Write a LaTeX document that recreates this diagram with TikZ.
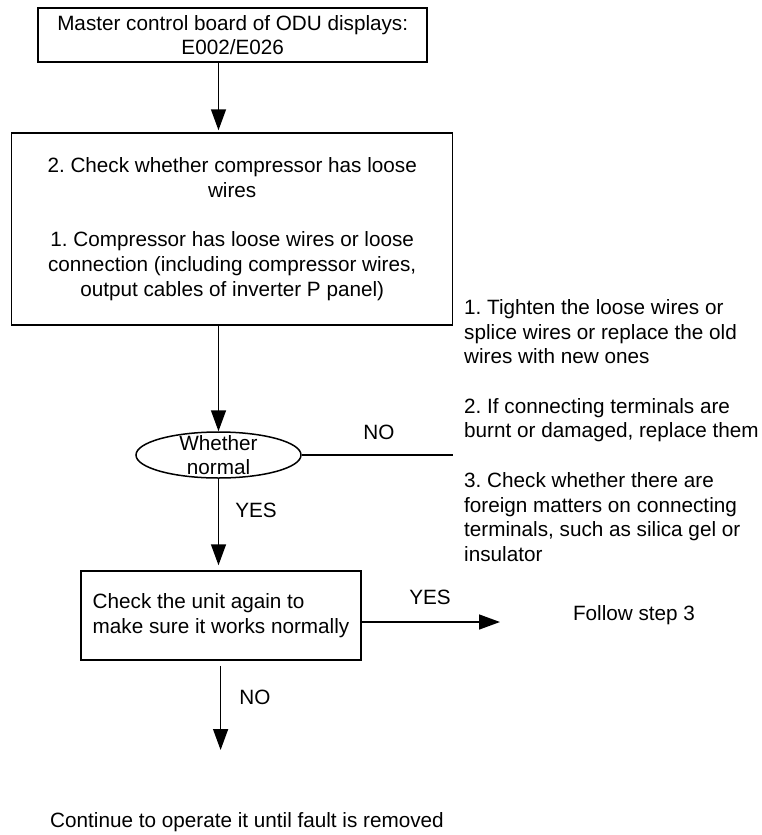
\documentclass[tikz,border=0pt]{standalone}
\usepackage{fontspec}
\setmainfont{Liberation Sans}
\frenchspacing
\usetikzlibrary{shapes.geometric, arrows.meta}

\begin{document}
\begin{tikzpicture}[x=1pt, y=-1pt, font=\fontsize{20.7}{24.7}\selectfont]
% Define the node styles
\tikzstyle{box} = [draw, rectangle, line width=1.5pt, inner sep=0pt]
\tikzstyle{decision} = [draw, ellipse, line width=1.5pt, minimum width=165pt, minimum height=46pt, inner sep=0pt]
\tikzstyle{note} = [inner sep=0pt, align=left]
\tikzstyle{flow} = [line width=1.5pt, -{Triangle[length=21pt, width=15pt]}]

\useasboundingbox (0,0) rectangle (761,835);

% Define the nodes
\node[box, align=center, minimum width=389pt, minimum height=54pt] (master) at (232.7, 35.2) {Master control board of ODU displays:\\E002/E026};
\node[box, align=center, minimum width=441pt, minimum height=192pt] (check) at (232.2, 229) {2. Check whether compressor has loose\\wires\\[24.7pt]1. Compressor has loose wires or loose\\connection (including compressor wires,\\output cables of inverter P panel)};
\node[decision] (normal) at (218.5, 455) {};
\node[align=center, inner sep=0pt] (normaltxt) at (normal) {Whether\\normal};
\node[note, anchor=west] (fix) at (464, 430.5) {1. Tighten the loose wires or\\splice wires or replace the old\\wires with new ones\\[24.7pt]2. If connecting terminals are\\burnt or damaged, replace them\\[24.7pt]3. Check whether there are\\foreign matters on connecting\\terminals, such as silica gel or\\insulator};
\node[box, align=left, minimum width=280pt, minimum height=89pt] (again) at (221, 615.5) {Check the unit again to\\make sure it works normally};
\node[note] (follow) at (634, 615) {Follow step 3};
\node[note] (cont) at (247, 822) {Continue to operate it until fault is removed};

\coordinate (noend) at (453, 455);
\coordinate (yesend) at (500, 622);
\coordinate (faultend) at (220.6, 750);

% Define the transitions
\draw[flow, shorten >=2pt] (master.south -| normal) -- (check.north -| normal);
\draw[flow] (check.south -| normal) -- (normal.north);
\draw[line width=1.5pt] (normal.east) -- (noend);
\draw[flow, shorten >=5pt] (normal.south) -- (again.north -| normal);
\draw[flow] (again.east |- yesend) -- (yesend);
\draw[flow, shorten <=5pt] (again.south -| faultend) -- (faultend);

% Branch labels
\node[note] (nolabel) at (379, 432) {NO};
\node[note] (yeslabel) at (256, 510) {YES};
\node[note] (yesright) at (430, 597) {YES};
\node[note] (nodown) at (255, 697) {NO};

\end{tikzpicture}
\end{document}
